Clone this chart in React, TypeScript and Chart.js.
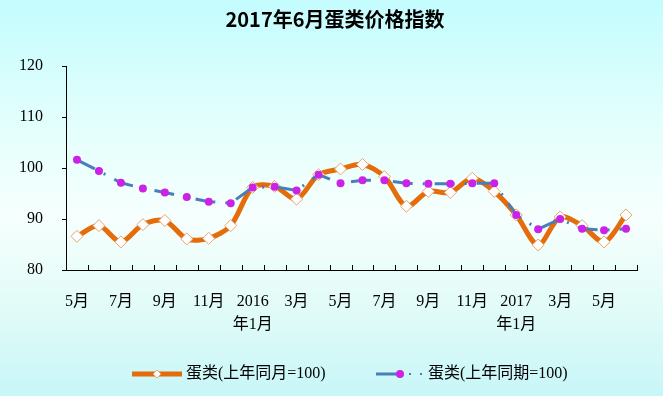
import React, { useEffect, useRef } from 'react';
import { Chart, registerables } from 'chart.js';

Chart.register(...registerables);

const titleText = '2017年6月蛋类价格指数';

const categories = [
  '2015年5月', '2015年6月', '2015年7月', '2015年8月', '2015年9月', '2015年10月', '2015年11月', '2015年12月',
  '2016年1月', '2016年2月', '2016年3月', '2016年4月', '2016年5月', '2016年6月', '2016年7月', '2016年8月',
  '2016年9月', '2016年10月', '2016年11月', '2016年12月',
  '2017年1月', '2017年2月', '2017年3月', '2017年4月', '2017年5月', '2017年6月',
];

const tickLabels: (string | string[])[] = [
  '5月', '', '7月', '', '9月', '', '11月', '',
  ['2016', '年1月'], '', '3月', '', '5月', '', '7月', '',
  '9月', '', '11月', '',
  ['2017', '年1月'], '', '3月', '', '5月', '',
];

const seriesNames = ['蛋类(上年同月=100)', '蛋类(上年同期=100)'];

const sameMonthValues = [
  86.6, 88.7, 85.5, 88.9, 89.7, 86.1, 86.2, 88.7,
  96.2, 96.4, 93.9, 98.7, 99.8, 100.7, 98.3, 92.5,
  95.4, 95.2, 98.0, 95.4,
  90.8, 84.9, 90.4, 88.7, 85.5, 90.8,
];

const samePeriodValues = [
  101.6, 99.4, 97.1, 96.0, 95.2, 94.3, 93.4, 93.1,
  96.2, 96.3, 95.6, 98.7, 97.0, 97.6, 97.6, 97.0,
  96.9, 96.9, 97.0, 97.0,
  90.8, 88.0, 90.0, 88.1, 87.8, 88.1,
];

const yTicks = [80, 90, 100, 110, 120];

const ORANGE = '#E46C0A';
const DIAMOND_BORDER = '#E6A56E';
const BLUE = '#4A7EBB';
const MAGENTA = '#CC22E8';
const CJK = "'Noto Sans CJK SC'";
const SERIF = `'Liberation Serif', ${CJK}, serif`;

const W = 663;
const H = 396;

const decorPlugin = {
  id: 'decor',
  beforeDraw(chart: any) {
    const { ctx } = chart;
    ctx.save();
    const g = ctx.createLinearGradient(0, 0, 0, H);
    g.addColorStop(0, '#C4FCFE');
    g.addColorStop(0.35, '#E6FFFC');
    g.addColorStop(0.55, '#F6FFFD');
    g.addColorStop(0.75, '#E4FCF8');
    g.addColorStop(1, '#C8F6F8');
    ctx.fillStyle = g;
    ctx.fillRect(0, 0, W, H);
    ctx.restore();
  },
  afterDraw(chart: any) {
    const { ctx, chartArea } = chart;
    const x = chart.scales.x;
    ctx.save();
    ctx.strokeStyle = '#000';
    ctx.lineWidth = 1;
    ctx.beginPath();
    const n = categories.length;
    for (let i = 1; i <= n; i++) {
      const px = Math.round((x.getPixelForValue(i - 1) + x.getPixelForValue(i)) / 2);
      const bx = i === n ? Math.round(chartArea.right) : px;
      ctx.moveTo(bx + 0.5, chartArea.bottom);
      ctx.lineTo(bx + 0.5, chartArea.bottom - 5);
    }
    ctx.stroke();

    // title
    ctx.fillStyle = '#000';
    ctx.font = `bold 20px 'Liberation Sans Narrow', ${CJK}, sans-serif`;
    ctx.textAlign = 'center';
    ctx.textBaseline = 'middle';
    ctx.fillText(titleText, 335, 19);

    // legend
    const ly = 374;
    ctx.lineCap = 'butt';
    ctx.strokeStyle = ORANGE;
    ctx.lineWidth = 5;
    ctx.beginPath();
    ctx.moveTo(132, ly);
    ctx.lineTo(182, ly);
    ctx.stroke();
    ctx.fillStyle = '#fff';
    ctx.strokeStyle = DIAMOND_BORDER;
    ctx.lineWidth = 1;
    ctx.beginPath();
    ctx.moveTo(157, ly - 4);
    ctx.lineTo(161, ly);
    ctx.lineTo(157, ly + 4);
    ctx.lineTo(153, ly);
    ctx.closePath();
    ctx.fill();
    ctx.stroke();

    ctx.strokeStyle = BLUE;
    ctx.lineWidth = 3;
    ctx.beginPath();
    ctx.moveTo(376, ly);
    ctx.lineTo(398, ly);
    ctx.stroke();
    ctx.fillStyle = BLUE;
    ctx.fillRect(409, ly - 1, 2, 2);
    ctx.fillRect(420, ly - 1, 2, 2);
    ctx.fillStyle = MAGENTA;
    ctx.beginPath();
    ctx.arc(400, ly, 4, 0, Math.PI * 2);
    ctx.fill();

    ctx.fillStyle = '#000';
    ctx.font = `16px ${SERIF}`;
    ctx.textAlign = 'left';
    ctx.textBaseline = 'middle';
    ctx.fillText(seriesNames[0], 186, ly);
    ctx.fillText(seriesNames[1], 428, ly);
    ctx.restore();
  },
};

export default function App() {
  const ref = useRef<HTMLCanvasElement | null>(null);

  useEffect(() => {
    document.body.style.margin = '0';
    const canvas = ref.current;
    if (!canvas) return;
    const chart = new Chart(canvas, {
      type: 'line',
      data: {
        labels: categories,
        datasets: [
          {
            label: seriesNames[0],
            data: sameMonthValues,
            borderColor: ORANGE,
            borderWidth: 5,
            tension: 0.3,
            pointStyle: 'rectRot',
            pointRadius: 6,
            pointBackgroundColor: '#FFFFFF',
            pointBorderColor: DIAMOND_BORDER,
            pointBorderWidth: 1,
            order: 2,
          },
          {
            label: seriesNames[1],
            data: samePeriodValues,
            borderColor: BLUE,
            borderWidth: 3,
            borderDash: [20, 10, 2, 10],
            tension: 0,
            pointStyle: 'circle',
            pointRadius: 4,
            pointBackgroundColor: MAGENTA,
            pointBorderColor: MAGENTA,
            pointBorderWidth: 0,
            order: 1,
          },
        ],
      },
      options: {
        responsive: false,
        animation: false,
        events: [],
        layout: { padding: { top: 66, right: 26, left: 0, bottom: 0 } },
        plugins: {
          legend: { display: false },
          title: { display: false },
          tooltip: { enabled: false },
        },
        scales: {
          x: {
            type: 'category',
            offset: true,
            grid: { display: false, offset: true },
            border: { display: true, color: '#000', width: 1 },
            ticks: {
              autoSkip: false,
              maxRotation: 0,
              minRotation: 0,
              padding: 13,
              color: '#000',
              font: { family: SERIF, size: 16, lineHeight: 1.4 },
              callback: (_v: any, i: number) => tickLabels[i],
            },
            afterFit: (s: any) => { s.height = H - 270; },
          },
          y: {
            min: 80,
            max: 120,
            afterBuildTicks: (s: any) => { s.ticks = yTicks.map((v) => ({ value: v })); },
            grid: { drawOnChartArea: false, drawTicks: true, tickLength: 4, color: '#000' },
            border: { display: true, color: '#000', width: 1 },
            ticks: {
              padding: 19,
              color: '#000',
              font: { family: SERIF, size: 16 },
            },
            afterFit: (s: any) => { s.width = 66; },
          },
        },
      },
      plugins: [decorPlugin],
    } as any);
    return () => chart.destroy();
  }, []);

  return (
    <div style={{ position: 'absolute', left: 0, top: 0, width: W, height: H }}>
      <canvas ref={ref} width={W} height={H} style={{ display: 'block', width: W, height: H }} />
    </div>
  );
}
